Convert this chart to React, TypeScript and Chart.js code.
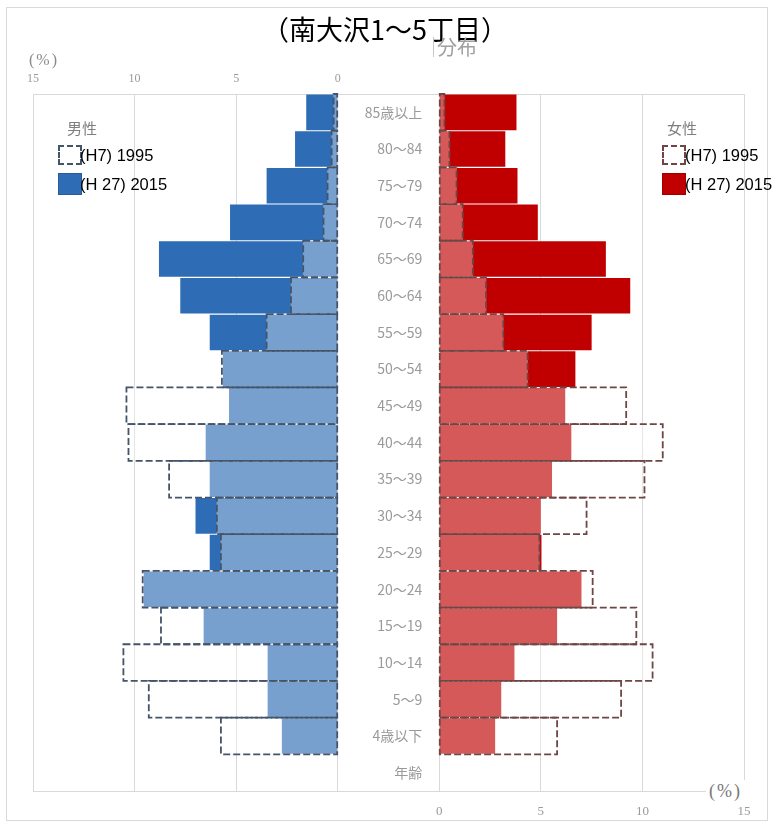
import React, { useEffect, useRef } from 'react';
import { Chart, registerables } from 'chart.js';

Chart.register(...registerables);

// ---- data ----
const ageLabels = [
  '85歳以上', '80～84', '75～79', '70～74', '65～69', '60～64', '55～59', '50～54',
  '45～49', '40～44', '35～39', '30～34', '25～29', '20～24', '15～19', '10～14',
  '5～9', '4歳以下', '年齢',
];
const male1995 = [0.2, 0.3, 0.5, 0.7, 1.7, 2.3, 3.5, 5.7, 10.4, 10.3, 8.3, 5.95, 5.75, 9.6, 8.7, 10.55, 9.3, 5.75, null];
const male2015 = [1.55, 2.1, 3.5, 5.3, 8.8, 7.75, 6.3, 5.65, 5.35, 6.5, 6.3, 7.0, 6.3, 9.55, 6.6, 3.45, 3.45, 2.75, null];
const female1995 = [0.25, 0.5, 0.85, 1.15, 1.65, 2.3, 3.15, 4.35, 9.2, 11.0, 10.1, 7.25, 4.93, 7.55, 9.7, 10.5, 8.95, 5.8, null];
const female2015 = [3.8, 3.25, 3.85, 4.85, 8.2, 9.4, 7.5, 6.7, 6.2, 6.5, 5.55, 5.0, 5.03, 7.0, 5.8, 3.7, 3.05, 2.75, null];
const axisTicks = [0, 5, 10, 15];
const axisMin = -20;
const axisMax = 15;

const MALE_DARK = '#2e6db5';
const FEMALE_DARK = '#c00000';
const MALE_DASH = '#44546a';
const FEMALE_DASH = '#6e4646';

const dashPlugin = {
  id: 'dashOutline',
  afterDatasetDraw(chart: any, args: any) {
    const ds = chart.data.datasets[args.index];
    if (!ds.dashColor) return;
    const ctx = chart.ctx;
    ctx.save();
    ctx.strokeStyle = ds.dashColor;
    ctx.lineWidth = 1.8;
    ctx.setLineDash([7, 3]);
    args.meta.data.forEach((el: any, i: number) => {
      if (ds.data[i] == null) return;
      const p = el.getProps(['x', 'y', 'base', 'height'], true);
      const l = Math.min(p.x, p.base);
      const w = Math.abs(p.x - p.base);
      ctx.strokeRect(l, p.y - p.height / 2, w, p.height);
    });
    ctx.restore();
  },
};

const ageLabelPlugin = {
  id: 'ageLabels',
  afterDraw(chart: any) {
    const y = chart.scales.y;
    const xF = chart.scales.xF;
    const ctx = chart.ctx;
    ctx.save();
    ctx.font = '14px "Noto Sans CJK JP", sans-serif';
    ctx.fillStyle = '#9a9a9a';
    ctx.textAlign = 'right';
    ctx.textBaseline = 'middle';
    const xr = xF.getPixelForValue(0) - 17;
    ageLabels.forEach((lab, i) => ctx.fillText(lab, xr, y.getPixelForValue(i)));
    ctx.restore();
  },
};

function Txt(props: { x: number; y: number; size: number; color?: string; family?: string; children: React.ReactNode; style?: React.CSSProperties }) {
  return (
    <div
      style={{
        position: 'absolute',
        left: props.x,
        top: props.y,
        transform: 'translateY(-50%)',
        fontSize: props.size,
        lineHeight: 1,
        color: props.color || '#000',
        fontFamily: props.family || '"Liberation Sans", Arial, sans-serif',
        whiteSpace: 'nowrap',
        ...props.style,
      }}
    >
      {props.children}
    </div>
  );
}

export default function App() {
  const ref = useRef<HTMLCanvasElement>(null);

  useEffect(() => {
    const tickFont = { family: '"Liberation Serif", serif', size: 12 };
    const chart = new Chart(ref.current as HTMLCanvasElement, {
      type: 'bar',
      data: {
        labels: ageLabels,
        datasets: [
          {
            label: '(H7) 1995 男性',
            data: male1995,
            xAxisID: 'xM',
            backgroundColor: 'rgba(255,255,255,0.35)',
            borderWidth: 0,
            order: 0,
            grouped: false,
            barPercentage: 1,
            categoryPercentage: 1,
            dashColor: MALE_DASH,
          } as any,
          {
            label: '(H7) 1995 女性',
            data: female1995,
            xAxisID: 'xF',
            backgroundColor: 'rgba(255,255,255,0.35)',
            borderWidth: 0,
            order: 0,
            grouped: false,
            barPercentage: 1,
            categoryPercentage: 1,
            dashColor: FEMALE_DASH,
          } as any,
          {
            label: '(H27) 2015 男性',
            data: male2015,
            xAxisID: 'xM',
            backgroundColor: MALE_DARK,
            borderWidth: 0,
            order: 1,
            grouped: false,
            barPercentage: 0.97,
            categoryPercentage: 1,
          } as any,
          {
            label: '(H27) 2015 女性',
            data: female2015,
            xAxisID: 'xF',
            backgroundColor: FEMALE_DARK,
            borderWidth: 0,
            order: 1,
            grouped: false,
            barPercentage: 0.97,
            categoryPercentage: 1,
          } as any,
        ],
      },
      options: {
        indexAxis: 'y',
        responsive: false,
        animation: false,
        events: [],
        layout: { padding: { left: 33, right: 29, top: 64, bottom: 0 } },
        plugins: { legend: { display: false }, tooltip: { enabled: false } },
        scales: {
          y: { type: 'category', display: false, offset: true },
          xM: {
            type: 'linear',
            position: 'top',
            reverse: true,
            min: axisMin,
            max: axisMax,
            afterBuildTicks: (s: any) => { s.ticks = axisTicks.map((v) => ({ value: v })); },
            afterFit: (s: any) => { s.height = 30; },
            grid: { color: '#d9d9d9', drawTicks: false },
            border: { display: true, color: '#d9d9d9' },
            ticks: { padding: 8, color: '#9a9a9a', font: tickFont, maxRotation: 0 },
          },
          xF: {
            type: 'linear',
            position: 'bottom',
            min: axisMin,
            max: axisMax,
            afterBuildTicks: (s: any) => { s.ticks = axisTicks.map((v) => ({ value: v })); },
            afterFit: (s: any) => { s.height = 33; },
            grid: { color: '#d9d9d9', drawTicks: false },
            border: { display: true, color: '#d9d9d9' },
            ticks: { padding: 13, color: '#9a9a9a', font: { ...tickFont, size: 13 }, maxRotation: 0 },
          },
        },
      } as any,
      plugins: [dashPlugin, ageLabelPlugin],
    });
    return () => chart.destroy();
  }, []);

  const cjk = '"Noto Sans CJK JP", sans-serif';

  return (
    <div style={{ position: 'absolute', left: 0, top: 0, width: 773, height: 824, background: '#fff', overflow: 'hidden' }}>
      <div style={{ position: 'absolute', left: 6, top: 7, width: 762, height: 814, border: '1px solid #d9d9d9', boxSizing: 'border-box' }} />
      <canvas ref={ref} width={773} height={824} style={{ position: 'absolute', left: 0, top: 0, width: 773, height: 824 }} />

      {/* title */}
      <Txt x={385} y={28} size={27} family={cjk} style={{ transform: 'translate(-50%,-50%)' }}>（南大沢1～5丁目）</Txt>
      <Txt x={433} y={47} size={20} family={cjk} color="#a0a0a0" style={{ borderLeft: '1px solid #c8c8c8', paddingLeft: 3 }}>分布</Txt>

      {/* unit labels */}
      <Txt x={29} y={60} size={16} family='"Liberation Serif", serif' color="#8a8a8a" style={{ letterSpacing: 2 }}>(%)</Txt>
      <Txt x={706} y={791} size={18} family='"Liberation Serif", serif' color="#777" style={{ background: '#fff', padding: '2px 3px', letterSpacing: 2 }}>(%)</Txt>

      {/* male legend */}
      <Txt x={67} y={127} size={15} family={cjk} color="#7f7f7f">男性</Txt>
      <div style={{ position: 'absolute', left: 58, top: 145, width: 24, height: 20, border: `2px dashed ${MALE_DASH}`, boxSizing: 'border-box', background: '#fff' }} />
      <Txt x={80} y={155} size={16.5}>(H7) 1995</Txt>
      <div style={{ position: 'absolute', left: 58, top: 173, width: 24, height: 22, background: MALE_DARK, border: '1px solid #2a5b96', boxSizing: 'border-box' }} />
      <Txt x={80} y={184} size={16.5}>(H 27) 2015</Txt>

      {/* female legend */}
      <Txt x={667} y={127} size={15} family={cjk} color="#7f7f7f">女性</Txt>
      <div style={{ position: 'absolute', left: 662, top: 145, width: 24, height: 20, border: `2px dashed ${FEMALE_DASH}`, boxSizing: 'border-box', background: '#fff' }} />
      <Txt x={685} y={155} size={16.5}>(H7) 1995</Txt>
      <div style={{ position: 'absolute', left: 662, top: 173, width: 24, height: 22, background: FEMALE_DARK, border: '1px solid #a00000', boxSizing: 'border-box' }} />
      <Txt x={685} y={184} size={16.5}>(H 27) 2015</Txt>
    </div>
  );
}
